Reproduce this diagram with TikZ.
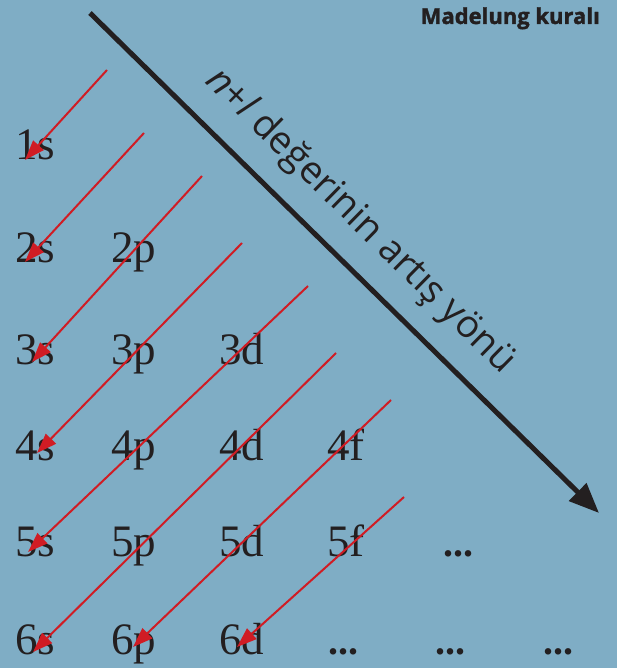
\documentclass[tikz,border=0pt]{standalone}
\usepackage{fontspec}
\setmainfont{Liberation Serif}
\newfontfamily\labelfont{Open Sans}
\newfontfamily\titlefont[BoldFeatures={FakeBold=1.6}]{Open Sans}
\usetikzlibrary{arrows.meta}
\definecolor{bgblue}{RGB}{127,173,197}
\definecolor{arrowred}{RGB}{208,28,36}
\definecolor{inkdark}{RGB}{35,31,32}
\tikzset{
    orb/.style={anchor=base west, inner sep=0pt, text=inkdark, font=\fontsize{45}{45}\selectfont},
    fillarrow/.style={draw=arrowred, line width=2pt, -{Triangle[length=20pt,width=14pt]}},
    dirarrow/.style={draw=inkdark, line width=5pt, -{Triangle[length=30pt,width=24pt]}}
}
\begin{document}
\begin{tikzpicture}[x=1pt, y=-1pt]
    % Arka plan
    \fill[bgblue] (0,0) rectangle (617,668);
    \useasboundingbox (0,0) rectangle (617,668);

    % Başlık
    \node[anchor=base east, inner sep=0pt, text=inkdark, font=\titlefont\bfseries\fontsize{22}{22}\selectfont] (title) at (600,24) {Madelung kuralı};

    % Orbitaller
    \foreach \n/\y in {1/160,2/262,3/364,4/460,5/556,6/654} {
        \node[orb] (s\n) at (15,\y) {\n s};
    }
    \foreach \n/\y in {2/262,3/364,4/460,5/556,6/654} {
        \node[orb] (p\n) at (111,\y) {\n p};
    }
    \foreach \n/\y in {3/364,4/460,5/556,6/654} {
        \node[orb] (d\n) at (219,\y) {\n d};
    }
    \node[orb] (f4) at (327,460) {4f};
    \node[orb] (f5) at (327,556) {5f};
    \node[orb, font=\bfseries\fontsize{40}{40}\selectfont] (dots5) at (443,556) {...};
    \node[orb, font=\bfseries\fontsize{40}{40}\selectfont] (dots6a) at (328,654) {...};
    \node[orb, font=\bfseries\fontsize{40}{40}\selectfont] (dots6b) at (435,654) {...};
    \node[orb, font=\bfseries\fontsize{40}{40}\selectfont] (dots6c) at (543,654) {...};

    % Doldurma sırası
    \coordinate (a1) at (107,70);
    \coordinate (a2) at (144,133);
    \coordinate (a3) at (202,176);
    \coordinate (a4) at (242,243);
    \coordinate (a5) at (308,286);
    \coordinate (a6) at (336,353);
    \coordinate (a7) at (391,400);
    \coordinate (a8) at (404,497);
    \draw[fillarrow] (a1) -- ([xshift=10pt]s1.base west);
    \draw[fillarrow] (a2) -- ([xshift=10pt]s2.base west);
    \draw[fillarrow] (a3) -- ([xshift=17pt, yshift=2pt]s3.base west);
    \draw[fillarrow] (a4) -- ([xshift=22pt, yshift=7pt]s4.base west);
    \draw[fillarrow] (a5) -- ([xshift=13pt, yshift=4pt]s5.base west);
    \draw[fillarrow] (a6) -- ([xshift=18pt, yshift=2pt]s6.base west);
    \draw[fillarrow] (a7) -- ([xshift=22pt, yshift=7pt]p6.base west);
    \draw[fillarrow] (a8) -- ([xshift=18pt, yshift=7pt]d6.base west);

    % n+l yönü
    \coordinate (dirstart) at (90,13);
    \coordinate (dirend) at (599,513);
    \draw[dirarrow] (dirstart) -- node[pos=0.475, sloped, above=19pt, inner sep=0pt, text=inkdark, font=\labelfont\fontsize{38}{38}\selectfont] (dirlabel) {{\itshape n}+{\itshape l} değerinin artış yönü} (dirend);
\end{tikzpicture}
\end{document}
